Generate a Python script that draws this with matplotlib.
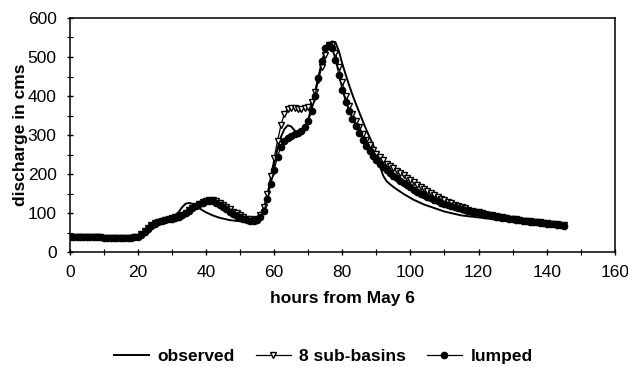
import matplotlib
matplotlib.use("Agg")
import matplotlib.pyplot as plt
import numpy as np
from matplotlib.ticker import MultipleLocator

plt.rcParams['font.family'] = ['Liberation Sans', 'DejaVu Sans']

hours = np.arange(0, 146)

observed = [40, 39, 39, 38, 38, 38, 38, 37, 37, 37,
            37, 37, 37, 37, 37, 37, 37, 37, 37, 37,
            39, 44, 52, 60, 68, 74, 79, 82, 85, 87,
            90, 95, 103, 115, 124, 126, 124, 119, 113, 107,
            102, 98, 94, 91, 88, 86, 84, 82, 81, 80,
            79, 78, 78, 78, 79, 82, 92, 110, 140, 180,
            225, 265, 295, 315, 325, 322, 312, 305, 308, 320,
            340, 370, 410, 450, 485, 512, 530, 540, 538, 515,
            483, 455, 428, 403, 380, 358, 336, 315, 295, 276,
            252, 222, 196, 182, 174, 167, 161, 155, 149, 144,
            139, 134, 130, 126, 122, 119, 116, 113, 110, 107,
            104, 102, 100, 98, 96, 94, 93, 92, 91, 90,
            89, 88, 87, 86, 85, 84, 83, 82, 81, 80,
            79, 78, 77, 76, 75, 74, 73, 72, 71, 70,
            69, 68, 67, 66, 65, 64]

sub_basins = [40, 40, 39, 39, 39, 38, 38, 38, 38, 38,
              37, 37, 37, 37, 37, 37, 37, 37, 37, 38,
              40, 46, 54, 62, 69, 74, 78, 81, 83, 85,
              87, 89, 92, 96, 101, 107, 113, 119, 124, 128,
              131, 133, 133, 131, 127, 122, 116, 110, 104, 99,
              94, 90, 86, 84, 83, 85, 95, 115, 150, 195,
              240, 285, 325, 355, 368, 370, 369, 368, 368, 370,
              372, 385, 410, 440, 475, 505, 530, 532, 510, 475,
              435, 400, 375, 355, 337, 320, 303, 288, 274, 262,
              252, 243, 235, 227, 221, 215, 209, 203, 197, 191,
              185, 179, 173, 167, 161, 156, 151, 146, 141, 137,
              133, 129, 125, 121, 118, 115, 112, 109, 106, 104,
              102, 100, 98, 96, 94, 92, 91, 89, 88, 86,
              85, 84, 82, 81, 80, 79, 78, 77, 76, 75,
              74, 73, 72, 71, 70, 69]

lumped = [40, 40, 39, 39, 39, 38, 38, 38, 38, 38,
          37, 37, 37, 37, 37, 37, 37, 37, 37, 38,
          40, 45, 52, 60, 67, 72, 76, 79, 82, 84,
          86, 88, 91, 95, 100, 106, 112, 118, 123, 127,
          130, 131, 130, 127, 122, 116, 110, 104, 98, 93,
          89, 85, 82, 80, 80, 83, 90, 105, 135, 175,
          210, 245, 270, 285, 293, 298, 302, 305, 310, 320,
          335, 362, 400, 445, 490, 522, 532, 522, 492, 455,
          415, 385, 362, 342, 323, 305, 288, 272, 258, 246,
          236, 227, 218, 210, 203, 196, 189, 183, 177, 172,
          166, 160, 155, 150, 146, 142, 138, 134, 130, 127,
          124, 121, 118, 115, 113, 110, 108, 106, 104, 102,
          100, 98, 96, 94, 93, 91, 90, 88, 87, 86,
          84, 83, 82, 81, 80, 78, 77, 76, 75, 74,
          73, 72, 71, 70, 69, 68]

fig = plt.figure(figsize=(6.28, 3.67), dpi=100)
ax = fig.add_axes([0.111, 0.313, 0.868, 0.638])

ax.plot(hours, observed, color='black', lw=1.4, label='observed')
ax.plot(hours, sub_basins, color='black', lw=0.9, marker='v', markersize=5,
        markerfacecolor='white', markeredgecolor='black', markeredgewidth=1.0,
        label='8 sub-basins')
ax.plot(hours, lumped, color='black', lw=0.9, marker='o', markersize=4.5,
        markerfacecolor='black', markeredgecolor='black', label='lumped')

ax.set_xlim(0, 160)
ax.set_ylim(0, 600)
ax.xaxis.set_major_locator(MultipleLocator(20))
ax.xaxis.set_minor_locator(MultipleLocator(10))
ax.yaxis.set_major_locator(MultipleLocator(100))
ax.yaxis.set_minor_locator(MultipleLocator(50))
ax.tick_params(which='major', direction='inout', length=5, width=1,
               labelsize=12.5, pad=7)
ax.tick_params(which='minor', direction='inout', length=4, width=0.8)
for s in ax.spines.values():
    s.set_linewidth(1.1)

ax.set_xlabel('hours from May 6', fontsize=12.5, fontweight='bold', labelpad=8)
ax.set_ylabel('discharge in cms', fontsize=12.5, fontweight='bold', labelpad=0)

fig.legend(loc='lower center', bbox_to_anchor=(0.515, -0.035), ncol=3, frameon=False,
           prop={'weight': 'bold', 'size': 12.5}, handlelength=2.0,
           columnspacing=1.2, handletextpad=0.5)

fig.savefig('out.png', dpi=100)
